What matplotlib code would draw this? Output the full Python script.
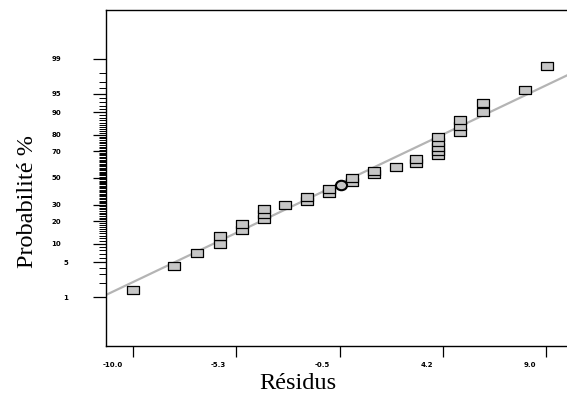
from statistics import NormalDist

import numpy as np
import matplotlib
matplotlib.use("Agg")
import matplotlib.pyplot as plt
from matplotlib.path import Path
from matplotlib.transforms import ScaledTranslation

# residuals, sorted (one entry per run)
residuals = [-10.0, -8.1, -7.05, -6.0, -6.0, -5.0, -5.0, -4.0, -4.0, -4.0,
             -3.0, -2.0, -2.0, -1.0, -1.0, -0.45, 0.05, 0.05, 1.1, 1.1,
             2.1, 3.0, 3.0, 4.05, 4.05, 4.05, 4.05, 4.05, 5.05, 5.05,
             5.05, 6.1, 6.1, 8.05, 9.05]
circled = [15]  # run drawn as a circle instead of a square

# reference line
fit_mean = 0.05
fit_sd = 4.95

prob_ticks = [1, 5, 10, 20, 30, 50, 70, 80, 90, 95, 99]
x_tick_values = [-10.0, -5.25, -0.5, 4.25, 9.0]
x_tick_labels = ["-10.0", "-5.3", "-0.5", "4.2", "9.0"]

nd = NormalDist()


def plot_normal_residuals():
    fig = plt.figure(figsize=(5.67, 3.96), dpi=100)
    ax = fig.add_axes([106 / 567, 1 - 346 / 396, 1.002 - 106 / 567, 336 / 396])

    n = len(residuals)
    z = [nd.inv_cdf((i + 0.5) / n) for i in range(n)]

    ax.set_xlim(-11.25, 10.02)
    ax.set_ylim(-3.28, 3.28)

    # fitted line across the whole axis
    xl = np.array(ax.get_xlim())
    ax.plot(xl, (xl - fit_mean) / fit_sd, color="#b4b4b4", lw=1.6, zorder=1)

    rect = Path([(-1, -0.68), (1, -0.68), (1, 0.68), (-1, 0.68), (-1, -0.68)],
                [Path.MOVETO, Path.LINETO, Path.LINETO, Path.LINETO, Path.CLOSEPOLY])
    circ = Path.unit_circle()
    ellipse = Path(circ.vertices * np.array([1.0, 0.85]), circ.codes)

    sq_x = [r for i, r in enumerate(residuals) if i not in circled]
    sq_z = [v for i, v in enumerate(z) if i not in circled]
    ax.plot(sq_x, sq_z, ls="none", marker=rect, markersize=8.0,
            markerfacecolor="#c6c6c6", markeredgecolor="black",
            markeredgewidth=0.9, zorder=3)
    ax.plot([residuals[i] for i in circled], [z[i] for i in circled], ls="none",
            marker=ellipse, markersize=8.0, markerfacecolor="#c6c6c6",
            markeredgecolor="black", markeredgewidth=1.5, zorder=4)

    # probability scale on y
    ax.set_yticks([nd.inv_cdf(p / 100) for p in prob_ticks])
    ax.set_yticklabels([str(p) for p in prob_ticks])
    minor = [k for k in range(1, 100) if k not in prob_ticks]
    ax.set_yticks([nd.inv_cdf(k / 100) for k in minor], minor=True)

    ax.set_xticks(x_tick_values)
    ax.set_xticklabels(x_tick_labels)

    ax.tick_params(axis="y", which="major", length=9.4, width=0.9, direction="out",
                   labelsize=5, color="black")
    ax.tick_params(axis="y", which="minor", length=5, width=0.7, direction="out",
                   color="black")
    ax.tick_params(axis="x", which="major", length=8, width=0.9, direction="out",
                   labelsize=5, pad=3.5, color="black")
    ax.tick_params(axis="y", right=False, which="both")
    ax.tick_params(axis="x", top=False)

    for tick, p in zip(ax.yaxis.get_major_ticks(), prob_ticks):
        tick.set_pad(23 if p >= 10 else 18)
    for lab in ax.get_yticklabels():
        lab.set_fontweight("bold")
        lab.set_horizontalalignment("right")

    shift = ScaledTranslation(-0.10, 0, fig.dpi_scale_trans)
    for lab in ax.get_xticklabels():
        lab.set_fontweight("bold")
        lab.set_horizontalalignment("right")
        lab.set_transform(lab.get_transform() + shift)

    for side in ["left", "top", "bottom"]:
        ax.spines[side].set_linewidth(1.0)
    ax.spines["right"].set_visible(False)

    fig.text(33 / 567, 1 - 202 / 396, "Probabilité %", rotation=90,
             rotation_mode="anchor", ha="center", va="baseline",
             family="Liberation Serif", fontsize=17.5)
    fig.text(298 / 567, 1 - 389 / 396, "Résidus", ha="center", va="baseline",
             family="Liberation Serif", fontsize=17.5)

    return fig


if __name__ == "__main__":
    fig = plot_normal_residuals()
    fig.savefig("out.png", dpi=100)
